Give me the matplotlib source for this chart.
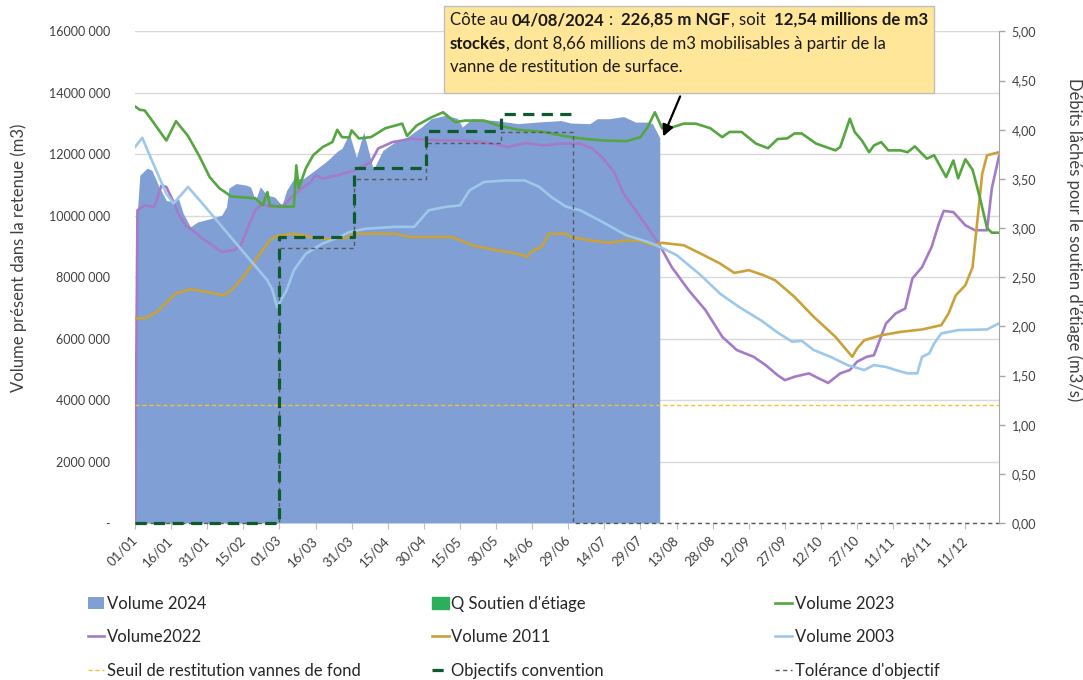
import numpy as np
import matplotlib
matplotlib.use('Agg')
import matplotlib.pyplot as plt
from matplotlib.patches import Patch
from matplotlib.offsetbox import TextArea, HPacker, VPacker, DrawingArea, AnnotationBbox
from matplotlib.ticker import FuncFormatter, FixedLocator

plt.rcParams['font.family'] = ['Lato', 'DejaVu Sans']

# x positions are day numbers counted from 01/01/2024
tick_days = list(range(0, 346, 15))
tick_labels = ['01/01', '16/01', '31/01', '15/02', '01/03', '16/03', '31/03', '15/04',
               '30/04', '15/05', '30/05', '14/06', '29/06', '14/07', '29/07', '13/08',
               '28/08', '12/09', '27/09', '12/10', '27/10', '11/11', '26/11', '11/12']

# volumes in millions of m3
days_2024 = [0, 1, 2, 5, 7, 10, 13, 16, 18, 20, 23, 26, 31, 36, 38, 39, 42, 46, 48, 50,
             52, 55, 58, 61, 63, 66, 70, 75, 80, 84, 86, 89, 92, 95, 99, 103, 108, 113,
             119, 123, 129, 134, 136, 140, 150, 159, 167, 177, 181, 189, 192, 197, 203,
             208, 213, 215, 218]
vol_2024 = [0, 10.2, 11.32, 11.55, 11.48, 10.94, 10.5, 10.45, 10.57, 10.08, 9.64, 9.8,
            9.9, 10.02, 10.29, 10.9, 11.05, 11.0, 10.94, 10.5, 10.94, 10.67, 10.61, 10.34,
            10.83, 11.21, 11.21, 11.5, 11.8, 12.1, 12.2, 12.68, 11.9, 12.73, 11.5, 12.13,
            12.4, 12.56, 12.89, 13.16, 13.27, 13.17, 12.89, 13.16, 13.1, 13.0, 13.05,
            13.1, 13.02, 13.0, 13.16, 13.16, 13.23, 13.05, 13.05, 13.0, 12.54]

days_2023 = [0, 2, 4, 8, 13, 17, 22, 27, 31, 35, 40, 50, 53, 55, 56, 59, 66, 67, 68, 71,
             74, 78, 82, 84, 86, 89, 90, 93, 98, 104, 111, 113, 117, 123, 128, 133, 137,
             145, 151, 159, 170, 178, 185, 195, 204, 210, 213, 216, 219, 222, 228, 233,
             239, 244, 247, 252, 258, 263, 267, 271, 274, 277, 283, 291, 293, 297, 299,
             302, 305, 307, 310, 313, 318, 321, 324, 329, 332, 337, 340, 342, 345, 348,
             351, 354, 356, 359]
vol_2023 = [13.56, 13.45, 13.43, 13.0, 12.45, 13.08, 12.6, 11.9, 11.26, 10.9, 10.63,
            10.57, 10.34, 10.77, 10.34, 10.3, 10.3, 11.64, 10.9, 11.55, 11.97, 12.24, 12.4,
            12.8, 12.56, 12.55, 12.78, 12.52, 12.56, 12.85, 13.0, 12.6, 12.94, 13.2, 13.37,
            13.05, 13.1, 13.1, 12.94, 12.8, 12.73, 12.6, 12.52, 12.45, 12.43, 12.56, 12.89,
            13.37, 12.85, 12.85, 13.0, 13.0, 12.85, 12.56, 12.73, 12.73, 12.35, 12.2, 12.5,
            12.52, 12.68, 12.68, 12.35, 12.13, 12.24, 13.16, 12.73, 12.45, 12.07, 12.29,
            12.4, 12.13, 12.13, 12.07, 12.26, 11.86, 11.97, 11.26, 11.8, 11.22, 11.84,
            11.5, 10.6, 9.6, 9.45, 9.45]

days_2022 = [0, 1, 4, 8, 11, 13, 16, 18, 21, 24, 28, 33, 36, 41, 44, 47, 50, 53, 56, 62,
             65, 69, 73, 75, 78, 84, 89, 91, 98, 101, 107, 115, 126, 137, 145, 155, 162,
             170, 177, 185, 190, 194, 199, 203, 210, 218, 223, 230, 237, 244, 250, 257,
             262, 267, 270, 274, 280, 284, 288, 293, 297, 300, 304, 307, 312, 316, 320,
             323, 327, 331, 334, 336, 340, 345, 349, 354, 356, 359]
vol_2022 = [0, 10.18, 10.34, 10.29, 10.99, 10.94, 10.45, 10.07, 9.69, 9.53, 9.26, 8.99,
            8.82, 8.88, 9.04, 9.64, 10.18, 10.4, 10.29, 10.34, 10.61, 10.88, 11.1, 11.32,
            11.21, 11.32, 11.43, 11.48, 11.75, 12.19, 12.4, 12.51, 12.45, 12.45, 12.4,
            12.24, 12.37, 12.29, 12.35, 12.35, 12.19, 11.91, 11.43, 10.72, 9.96, 9.04,
            8.33, 7.58, 6.93, 6.06, 5.63, 5.41, 5.14, 4.81, 4.65, 4.76, 4.87, 4.71, 4.56,
            4.87, 4.98, 5.25, 5.41, 5.46, 6.49, 6.82, 6.98, 7.96, 8.33, 8.99, 9.75, 10.16,
            10.12, 9.69, 9.53, 9.53, 10.9, 11.95]

days_2011 = [0, 4, 9, 17, 23, 30, 37, 40, 45, 49, 53, 56, 59, 66, 73, 80, 88, 91, 108,
             114, 132, 140, 150, 159, 163, 165, 169, 172, 179, 181, 189, 197, 204, 210,
             215, 219, 228, 235, 243, 249, 255, 261, 266, 274, 282, 291, 298, 300, 303,
             310, 318, 327, 335, 338, 341, 345, 348, 349, 351, 352, 354, 359]
vol_2011 = [6.66, 6.66, 6.87, 7.47, 7.61, 7.52, 7.41, 7.58, 8.01, 8.45, 8.88, 9.2, 9.34,
            9.42, 9.31, 9.24, 9.28, 9.42, 9.42, 9.31, 9.31, 9.04, 8.88, 8.77, 8.66, 8.86,
            8.99, 9.42, 9.42, 9.31, 9.2, 9.12, 9.2, 9.18, 9.04, 9.12, 9.04, 8.77, 8.45,
            8.14, 8.23, 8.07, 7.9, 7.36, 6.71, 6.06, 5.41, 5.68, 5.95, 6.11, 6.22, 6.3,
            6.44, 6.82, 7.41, 7.74, 8.33, 9.1, 10.61, 11.37, 11.97, 12.07]

days_2003 = [0, 3, 7, 10, 13, 16, 22, 28, 35, 42, 49, 55, 57, 59, 63, 66, 71, 78, 85,
             89, 96, 108, 116, 122, 129, 135, 139, 145, 154, 162, 168, 173, 179, 185, 193,
             204, 213, 218, 225, 235, 243, 251, 260, 267, 273, 277, 282, 289, 296, 303,
             307, 312, 316, 321, 325, 327, 330, 332, 335, 342, 354, 359]
vol_2003 = [12.24, 12.54, 11.8, 11.26, 10.72, 10.4, 10.94, 10.4, 9.75, 9.1, 8.45, 7.9,
            7.6, 7.03, 7.58, 8.23, 8.77, 9.1, 9.31, 9.47, 9.58, 9.64, 9.64, 10.18, 10.29,
            10.34, 10.83, 11.1, 11.15, 11.15, 10.94, 10.61, 10.3, 10.18, 9.85, 9.37, 9.15,
            8.99, 8.72, 8.07, 7.47, 7.03, 6.6, 6.2, 5.9, 5.93, 5.63, 5.41, 5.14, 4.98,
            5.14, 5.08, 4.98, 4.87, 4.87, 5.41, 5.52, 5.84, 6.17, 6.28, 6.3, 6.5]

# flows in m3/s (right axis)
obj_days = [0, 60, 91, 121, 152, 182]
obj_flow = [0, 2.91, 3.61, 3.99, 4.16, 4.16]
tol_days = [0, 60, 91, 121, 152, 182, 359]
tol_flow = [0, 2.8, 3.5, 3.87, 3.98, 0, 0]
seuil_days = [0, 359]
seuil_flow = [1.2, 1.2]

M = 1e6
fig = plt.figure(figsize=(10.83, 6.8), dpi=100)
ax = fig.add_axes([0.1247, 0.2309, 0.7978, 0.7228])
ax2 = ax.twinx()

ax.yaxis.grid(True, color='#D9D9D9', lw=1)
ax.set_axisbelow(True)

area = ax.fill_between(days_2024, 0, np.array(vol_2024) * M, color='#7F9FD5', lw=0,
                       label='Volume 2024')
l22, = ax.plot(days_2022, np.array(vol_2022) * M, color='#A57BC8', lw=1.9, label='Volume2022')
l11, = ax.plot(days_2011, np.array(vol_2011) * M, color='#C9A23A', lw=1.9, label='Volume 2011')
l03, = ax.plot(days_2003, np.array(vol_2003) * M, color='#9DC8EA', lw=1.9, label='Volume 2003')
l23, = ax.plot(days_2023, np.array(vol_2023) * M, color='#55A640', lw=1.9, label='Volume 2023')

lseuil, = ax2.plot(seuil_days, seuil_flow, color='#F2C230', lw=1, ls=(0, (3, 2)),
                   label='Seuil de restitution vannes de fond')
ltol, = ax2.plot(tol_days, tol_flow, color='#595959', lw=1, ls=(0, (3, 2.5)),
                 drawstyle='steps-post', clip_on=False, label="Tolérance d'objectif")
lobj, = ax2.plot(obj_days, obj_flow, color='#0E5A2E', lw=2.3, ls=(0, (3.5, 2.3)),
                 drawstyle='steps-post', clip_on=False, label='Objectifs convention')
q_patch = Patch(color='#2DAE5B', label="Q Soutien d'étiage")

ax.set_xlim(0, 359)
ax.set_ylim(0, 16 * M)
ax2.set_ylim(0, 5)
ax.xaxis.set_major_locator(FixedLocator(tick_days))
ax.set_xticklabels(tick_labels)
ax.set_yticks(np.arange(0, 16.1, 2) * M)
ax.yaxis.set_major_formatter(FuncFormatter(
    lambda v, p: '-' if v == 0 else '%d 000' % round(v / 1000)))
ax2.set_yticks(np.arange(0, 5.01, 0.5))
ax2.yaxis.set_major_formatter(FuncFormatter(lambda v, p: ('%.2f' % v).replace('.', ',')))

for a in (ax, ax2):
    for s in a.spines.values():
        s.set_visible(False)
ax2.spines['right'].set_visible(True)
ax2.spines['right'].set_color('#A6A6A6')

ax.tick_params(axis='y', length=0, pad=18, labelsize=9, labelcolor='#404040')
ax2.tick_params(axis='y', length=4, width=1, color='#A6A6A6', pad=5, labelsize=9,
                labelcolor='#404040')
ax.tick_params(axis='x', length=4, color='#BFBFBF', pad=7, labelsize=9.5, labelcolor='#404040')
plt.setp(ax.get_xticklabels(), rotation=45, ha='right', va='center', rotation_mode='anchor')

fig.text(0.017, 0.621, 'Volume présent dans la retenue (m3)', rotation=90, ha='center',
         va='center', fontsize=12, color='#404040')
fig.text(0.992, 0.647, "Débits lâchés pour le soutien d'étiage (m3/s)", rotation=270,
         ha='center', va='center', fontsize=12, color='#404040')

# legend in three separate columns
cols = [([area, l22, lseuil], 0.081), ([q_patch, l11, lobj], 0.399), ([l23, l03, ltol], 0.716)]
for handles, x0 in cols:
    fig.legend(handles=handles, loc='upper left', bbox_to_anchor=(x0, 0.124), frameon=False,
               fontsize=12, handlelength=1.0, handletextpad=0.15, labelspacing=1.05,
               borderpad=0, borderaxespad=0, labelcolor='#262626')


# annotation box with bold parts
def seg(txt, bold=False):
    return TextArea(txt, textprops=dict(fontsize=12.1, color='#1A1A1A',
                                        fontweight='bold' if bold else 'normal'))


def sp(n=1):
    return DrawingArea(3.0 * n, 1)


line1 = HPacker(children=[seg('Côte au'), sp(), seg('04/08/2024', True), sp(), seg(':'),
                          sp(2), seg('226,85 m NGF', True), seg(', soit'), sp(2),
                          seg('12,54 millions de m3', True)],
                pad=0, sep=0, align='baseline')
line2 = HPacker(children=[seg('stockés', True),
                          seg(', dont 8,66 millions de m3 mobilisables à partir de la')],
                pad=0, sep=0, align='baseline')
line3 = HPacker(children=[seg('vanne de restitution de surface.')], pad=0, sep=0,
                align='baseline')
note = VPacker(children=[line1, line2, line3, DrawingArea(1, 3)], pad=0, sep=5.5,
               align='left')
ab = AnnotationBbox(note, xy=(219, 12.5 * M), xycoords=ax.transData, xybox=(450, 668),
                    boxcoords='figure pixels', box_alignment=(0, 1), pad=0.45,
                    annotation_clip=False,
                    bboxprops=dict(facecolor='#FFE699', edgecolor='#BFBFBF', lw=1),
                    arrowprops=dict(arrowstyle='-|>', color='black', lw=1.6,
                                    mutation_scale=12, relpos=(0.49, 0)))
ab.set_zorder(10)
ax2.add_artist(ab)

fig.savefig('out.png', dpi=100)
